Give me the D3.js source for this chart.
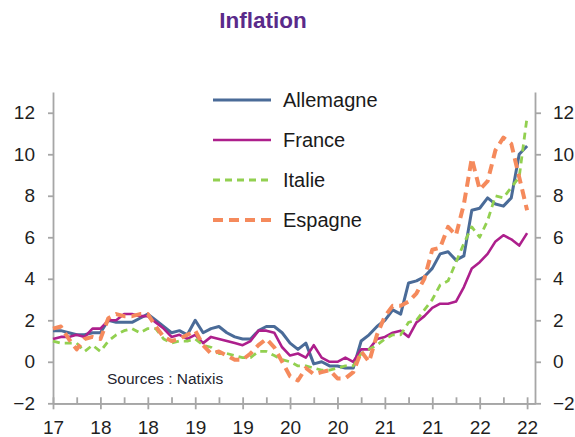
<!DOCTYPE html>
<html><head><meta charset="utf-8">
<script src="https://cdn.jsdelivr.net/npm/d3@7/dist/d3.min.js"></script>
<style>body{margin:0;background:#fff}svg{display:block}</style>
</head><body>
<svg id="c" width="575" height="437"></svg>
<script>
// Monthly observations, Oct 2017 -> Oct 2022
const months = [
 "2017-10","2017-11","2017-12",
 "2018-01","2018-02","2018-03","2018-04","2018-05","2018-06","2018-07","2018-08","2018-09","2018-10","2018-11","2018-12",
 "2019-01","2019-02","2019-03","2019-04","2019-05","2019-06","2019-07","2019-08","2019-09","2019-10","2019-11","2019-12",
 "2020-01","2020-02","2020-03","2020-04","2020-05","2020-06","2020-07","2020-08","2020-09","2020-10","2020-11","2020-12",
 "2021-01","2021-02","2021-03","2021-04","2021-05","2021-06","2021-07","2021-08","2021-09","2021-10","2021-11","2021-12",
 "2022-01","2022-02","2022-03","2022-04","2022-05","2022-06","2022-07","2022-08","2022-09","2022-10"];

const allemagne = [1.5,1.5,1.4, 1.3,1.3,1.4,1.4,2.0,1.9,1.9,1.9,2.1,2.3,2.0,1.7,
 1.4,1.5,1.3,2.0,1.4,1.6,1.7,1.4,1.2,1.1,1.1,1.5,
 1.7,1.7,1.4,0.9,0.6,0.9,-0.1,0.0,-0.2,-0.2,-0.3,-0.3,
 1.0,1.3,1.7,2.0,2.5,2.3,3.8,3.9,4.1,4.5,5.2,5.3,
 4.9,5.1,7.3,7.4,7.9,7.6,7.5,7.9,10.0,10.4];

const france = [1.1,1.2,1.2, 1.3,1.2,1.6,1.6,2.0,2.0,2.3,2.3,2.2,2.2,1.9,1.6,
 1.2,1.3,1.1,1.3,0.9,1.2,1.1,1.0,0.9,0.8,1.0,1.5,
 1.5,1.4,0.7,0.3,0.4,0.2,0.8,0.2,0.0,0.0,0.2,0.0,
 0.6,0.6,1.1,1.2,1.4,1.5,1.2,1.9,2.2,2.6,2.8,2.8,
 2.9,3.6,4.5,4.8,5.2,5.8,6.1,5.9,5.6,6.2];

const italie = [1.0,0.9,0.9, 0.9,0.5,0.8,0.5,1.0,1.3,1.5,1.6,1.4,1.6,1.6,1.1,
 0.9,1.0,1.0,1.1,0.8,0.7,0.4,0.4,0.3,0.2,0.2,0.5,
 0.5,0.3,0.1,0.0,-0.2,-0.2,-0.3,-0.4,-0.4,-0.3,-0.2,-0.2,
 0.4,0.6,0.8,1.1,1.3,1.3,1.9,2.0,2.5,3.0,3.7,3.9,
 4.8,5.7,6.5,6.0,6.8,8.0,7.9,8.4,8.9,11.8];

const espagne = [1.6,1.7,1.1, 0.6,1.1,1.2,1.1,2.1,2.3,2.2,2.2,2.3,2.3,1.7,1.2,
 1.0,1.1,1.3,1.5,0.8,0.4,0.5,0.3,0.1,0.1,0.4,0.8,
 1.1,0.7,0.0,-0.7,-0.9,-0.3,-0.6,-0.5,-0.4,-0.8,-0.8,-0.5,
 0.5,0.0,1.3,2.2,2.7,2.7,2.9,3.3,4.0,5.4,5.5,6.5,
 6.1,7.6,9.8,8.3,8.7,10.2,10.8,10.5,8.9,7.3];

const seriesNames = ["Allemagne","France","Italie","Espagne"];
const seriesColors = ["#4a6b98","#ad1f8c","#92d050","#f58a5c"];
const yTicks = [-2,0,2,4,6,8,10,12];
const xTickMonths = ["2017-10","2018-04","2018-10","2019-04","2019-10","2020-04","2020-10","2021-04","2021-10","2022-04","2022-10"];
const xTickLabels = ["17","18","18","19","19","20","20","21","21","22","22"];
const xMinorMonths = ["2018-01","2018-07","2019-01","2019-07","2020-01","2020-07","2021-01","2021-07","2022-01","2022-07"];

const series = [allemagne, france, italie, espagne];
const styles = [
  {w:3, dash:null},
  {w:2.6, dash:null},
  {w:2.8, dash:"7,5"},
  {w:4, dash:"10,6"}
];

const svg = d3.select("#c");
const FONT = "'Liberation Sans', Arial, sans-serif";
const x = d3.scaleLinear().domain([0, months.length]).range([53, 535]);
const y = d3.scaleLinear().domain([-2, 13]).range([403.3, 92]);
const idx = m => months.indexOf(m);

// Title
svg.append("text").attr("x", 263).attr("y", 28).attr("text-anchor","middle")
  .attr("font-family", FONT).attr("font-weight","bold").attr("font-size", 22.5)
  .attr("fill", "#5a2a8a").text("Inflation");

const axisColor = "#a6a6a6";
function styleAxis(g){
  g.selectAll("path.domain").attr("stroke", axisColor).attr("stroke-width", 1.8);
  g.selectAll(".tick line").attr("stroke", axisColor).attr("stroke-width", 1.8);
  g.selectAll(".tick text").attr("fill", "#1f1f1f").attr("font-family", FONT).attr("font-size", 19);
}

// Left axis
svg.append("g").attr("transform","translate(53,0)")
  .call(d3.axisLeft(y).tickValues(yTicks).tickSize(5).tickSizeOuter(0).tickPadding(13).tickFormat(d3.format("d")))
  .call(styleAxis);
// Right axis
svg.append("g").attr("transform","translate(535,0)")
  .call(d3.axisRight(y).tickValues(yTicks).tickSize(6).tickSizeOuter(0).tickPadding(12).tickFormat(d3.format("d")))
  .call(styleAxis);

// Bottom minor ticks (upward)
svg.append("g").attr("transform","translate(0,403.3)")
  .call(d3.axisBottom(x).tickValues(xMinorMonths.map(idx)).tickSize(-6).tickSizeOuter(0).tickFormat(""))
  .call(styleAxis);
// Bottom major ticks
const xb = svg.append("g").attr("transform","translate(0,403.3)")
  .call(d3.axisBottom(x).tickValues(xTickMonths.map(idx)).tickSize(6).tickSizeOuter(0).tickPadding(11)
     .tickFormat((d,i)=>xTickLabels[i]))
  .call(styleAxis);
xb.selectAll(".tick line").attr("y1", -6);

// Series lines
const line = d3.line().x((d,i)=>x(i)).y(d=>y(d));
series.forEach((s,k)=>{
  svg.append("path").datum(s).attr("d", line)
    .attr("fill","none").attr("stroke", seriesColors[k]).attr("stroke-width", styles[k].w)
    .attr("stroke-linejoin","round")
    .attr("stroke-dasharray", styles[k].dash);
});

// Legend
const lg = svg.append("g");
seriesNames.forEach((n,k)=>{
  const ly = 100 + k*40;
  lg.append("line").attr("x1",213).attr("x2",271).attr("y1",ly).attr("y2",ly)
    .attr("stroke", seriesColors[k]).attr("stroke-width", styles[k].w)
    .attr("stroke-dasharray", styles[k].dash);
  lg.append("text").attr("x",283).attr("y",ly+7).attr("font-family",FONT).attr("font-size",20)
    .attr("fill","#1a1a1a").text(n);
});

// Source
svg.append("text").attr("x",107).attr("y",384).attr("font-family",FONT).attr("font-size",15.5)
  .attr("fill","#1f1f2f").text("Sources : Natixis");
</script>
</body></html>
